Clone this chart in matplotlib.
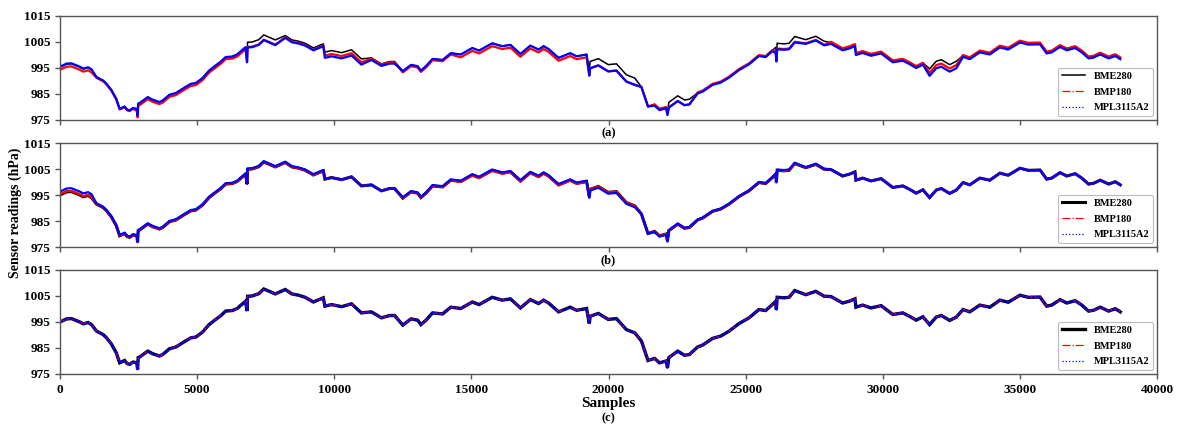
import numpy as np
import matplotlib
matplotlib.use("Agg")
import matplotlib.pyplot as plt
from matplotlib.lines import Line2D

plt.rcParams['font.family'] = ['Liberation Serif', 'DejaVu Serif']
plt.rcParams['font.weight'] = 'bold'

# ---- data (samples, hPa) ----
samples = [0, 240, 420, 725, 845, 1027, 1150, 1330, 1570, 1690, 1870, 2050, 2175, 2355, 2450, 2540,
           2660, 2800, 2830, 2850, 2900, 3200, 3380, 3625, 3745, 3990, 4230, 4530, 4770, 4950, 5195,
           5435, 5680, 5860, 6040, 6280, 6460, 6765, 6820, 6840, 7005, 7250, 7430, 7850, 8215, 8455,
           8700, 8940, 9240, 9600, 9660, 9900, 10270, 10630, 10990, 11355, 11720, 12020, 12200, 12500,
           12800, 13040, 13160, 13345, 13585, 13950, 14250, 14615, 15035, 15280, 15760, 16125, 16425,
           16790, 17150, 17450, 17635, 17815, 18180, 18600, 18840, 19200, 19300, 19330, 19630, 19990,
           20290, 20650, 20960, 21200, 21440, 21680, 21860, 22100, 22150, 22200, 22525, 22770, 22950,
           23250, 23430, 23795, 24095, 24400, 24760, 25125, 25485, 25730, 25974, 26100, 26120, 26150,
           26400, 26584, 26790, 27194, 27560, 27865, 28110, 28536, 28780, 28987, 29020, 29268, 29573,
           29939, 30366, 30732, 30976, 31220, 31464, 31708, 31952, 32135, 32440, 32684, 32928, 33172,
           33538, 33904, 34270, 34575, 35002, 35307, 35734, 35978, 36161, 36466, 36710, 37015, 37259,
           37503, 37686, 37930, 38235, 38479, 38662]
pressure = [995.0, 996.2, 996.3, 995.0, 994.3, 994.8, 994.0, 991.5, 990.2, 989.0, 986.6, 983.2, 979.3,
            980.2, 979.0, 978.7, 979.6, 979.3, 976.8, 981.3, 981.5, 983.8, 982.8, 981.9, 982.5, 984.7,
            985.4, 987.4, 988.9, 989.2, 991.1, 994.0, 996.0, 997.4, 999.2, 999.4, 1000.2, 1003.0, 999.2,
            1004.9, 1005.0, 1005.9, 1007.7, 1005.8, 1007.5, 1005.8, 1005.3, 1004.5, 1002.7, 1004.3,
            1001.1, 1001.7, 1000.9, 1002.0, 998.5, 998.9, 996.6, 997.5, 997.5, 993.8, 996.2, 995.7,
            994.0, 995.7, 998.5, 998.1, 1000.7, 1000.2, 1002.7, 1001.7, 1004.5, 1003.4, 1003.9, 1000.4,
            1003.6, 1002.1, 1003.4, 1002.3, 998.9, 1000.7, 999.5, 1000.2, 994.4, 997.2, 998.3, 996.0,
            996.3, 992.1, 990.8, 987.7, 980.2, 981.0, 979.3, 980.0, 977.4, 981.3, 983.8, 982.2, 982.5,
            985.4, 986.1, 988.7, 989.6, 991.5, 994.4, 996.6, 999.8, 999.4, 1001.7, 1003.0, 999.8,
            1004.5, 1004.3, 1004.5, 1007.1, 1005.5, 1006.8, 1004.9, 1004.8, 1002.3, 1003.0, 1003.9,
            1000.7, 1001.5, 1000.4, 1001.3, 997.9, 998.5, 997.2, 995.7, 997.0, 994.0, 996.9, 997.5,
            995.6, 996.9, 999.8, 998.9, 1001.5, 1000.7, 1003.4, 1002.6, 1005.3, 1004.5, 1004.6, 1001.1,
            1001.5, 1003.6, 1002.3, 1003.2, 1001.5, 999.2, 999.5, 1000.7, 999.2, 1000.1, 998.9]

# per-sensor deviations (hPa) (a) and (b)
segment_edges = [0, 1300, 2800, 6800, 8000, 9650, 11000, 12500, 14500, 19300, 21000, 21500,
                 22200, 23000, 26100, 27000, 28000, 29000, 31500, 32800, 38700]
bme_dev_a = [0.3, 0, 0, 0, 0, 0, 0, 0, 0, 0.3, 0, 0, 0.5, 0, 0, 0.4, 0, 0, 0.7, 0]
bmp_dev_a = [-0.7, -0.3, -0.8, -1.8, -0.7, -1.3, -0.3, -0.5, -1.1, -2.3, 0, 0, -1.5, 0.2, -2.0,
             -1.0, 0.3, 0, -0.8, 0.2]
mpl_dev_a = [0.5, 0, 0, -2.0, -0.9, -2.2, -0.8, 0, 0, -2.3, 0, -0.5, -1.5, -0.2, -2.3, -1.2,
             -0.5, -0.7, -2.0, -0.5]
bme_dev_b = [0] * 20
bmp_dev_b = [0.2, 0, 0, 0, 0, 0, 0, 0, -0.2, 0, 0, 0, 0, 0, 0, 0, 0, 0, 0, 0]
mpl_dev_b = [1.3, 0.3, 0.3, 0.3, 0.3, 0, 0, 0.3, 0.3, -0.5, 0, -0.3, 0.2, 0.2, 0.3, 0.2, 0, 0, 0, 0]
zero_dev = [0] * 20

sensor_names = ['BME280', 'BMP180', 'MPL3115A2']
panel_labels = ['(a)', '(b)', '(c)']
x_ticks = [0, 5000, 10000, 15000, 20000, 25000, 30000, 35000, 40000]
y_ticks = [975, 985, 995, 1005, 1015]

x = np.array(samples, dtype=float)
base = np.array(pressure)
seg_idx = np.clip(np.searchsorted(segment_edges, x, side='right') - 1, 0, 19)


def series(dev):
    return base + np.array(dev, dtype=float)[seg_idx]


panels = [
    [series(bme_dev_a), series(bmp_dev_a), series(mpl_dev_a)],
    [series(bme_dev_b), series(bmp_dev_b), series(mpl_dev_b)],
    [series(zero_dev), series(zero_dev), series(zero_dev)],
]

fig = plt.figure(figsize=(11.77, 4.25), dpi=100)
L, R = 60 / 1177, 1157 / 1177
tops = [16, 143, 270]
h = 104
axes = []
for i in range(3):
    ax = fig.add_axes([L, 1 - (tops[i] + h) / 425, R - L, h / 425])
    axes.append(ax)

black_lw = [1.1, 2.2, 2.4]
for i, ax in enumerate(axes):
    b, r, m = panels[i]
    ax.plot(x, b, color='black', lw=black_lw[i], solid_joinstyle='miter')
    if i < 2:
        ax.plot(x, r, color='red', lw=1.6)
        ax.plot(x, m, color='blue', lw=1.6)
    else:
        ax.plot(x, r, color='red', lw=1.2, ls='-.')
        ax.plot(x, m, color='blue', lw=1.6, ls=(0, (1.5, 0.6)))
    ax.set_xlim(0, 40000)
    ax.set_ylim(975, 1015)
    ax.set_xticks(x_ticks)
    ax.set_yticks(y_ticks)
    ax.tick_params(direction='out', length=3.5, width=1, colors='#555555', labelcolor='black',
                   labelsize=9.5)
    for lab in ax.get_xticklabels() + ax.get_yticklabels():
        lab.set_fontweight('bold')
    for sp in ax.spines.values():
        sp.set_color('#555555')
        sp.set_linewidth(1.0)
    if i < 2:
        ax.set_xticklabels([])
        ax.text(0.5, -0.07, panel_labels[i], transform=ax.transAxes, ha='center', va='top',
                fontsize=9, fontweight='bold')
    handles = [Line2D([], [], color='black', lw=black_lw[i] if i else 1.1),
               Line2D([], [], color='red', lw=0.9, ls='-.'),
               Line2D([], [], color='blue', lw=0.9, ls=':')]
    leg = ax.legend(handles, sensor_names, loc='lower right', fontsize=7.5, frameon=True,
                    borderaxespad=0.35, handlelength=2.2, labelspacing=0.6, fancybox=True,
                    prop={'weight': 'bold', 'size': 7.5})
    leg.get_frame().set_edgecolor('#aaaaaa')
    leg.get_frame().set_linewidth(0.8)

axes[2].set_xlabel('Samples', fontsize=11, fontweight='bold', labelpad=1)
fig.text(608 / 1177, 1 - 418 / 425, '(c)', ha='center', va='center', fontsize=9, fontweight='bold')
fig.text(15 / 1177, 0.5, 'Sensor readings (hPa)', rotation=90, ha='center', va='center',
         fontsize=10, fontweight='bold')

fig.savefig('out.png', dpi=100)
